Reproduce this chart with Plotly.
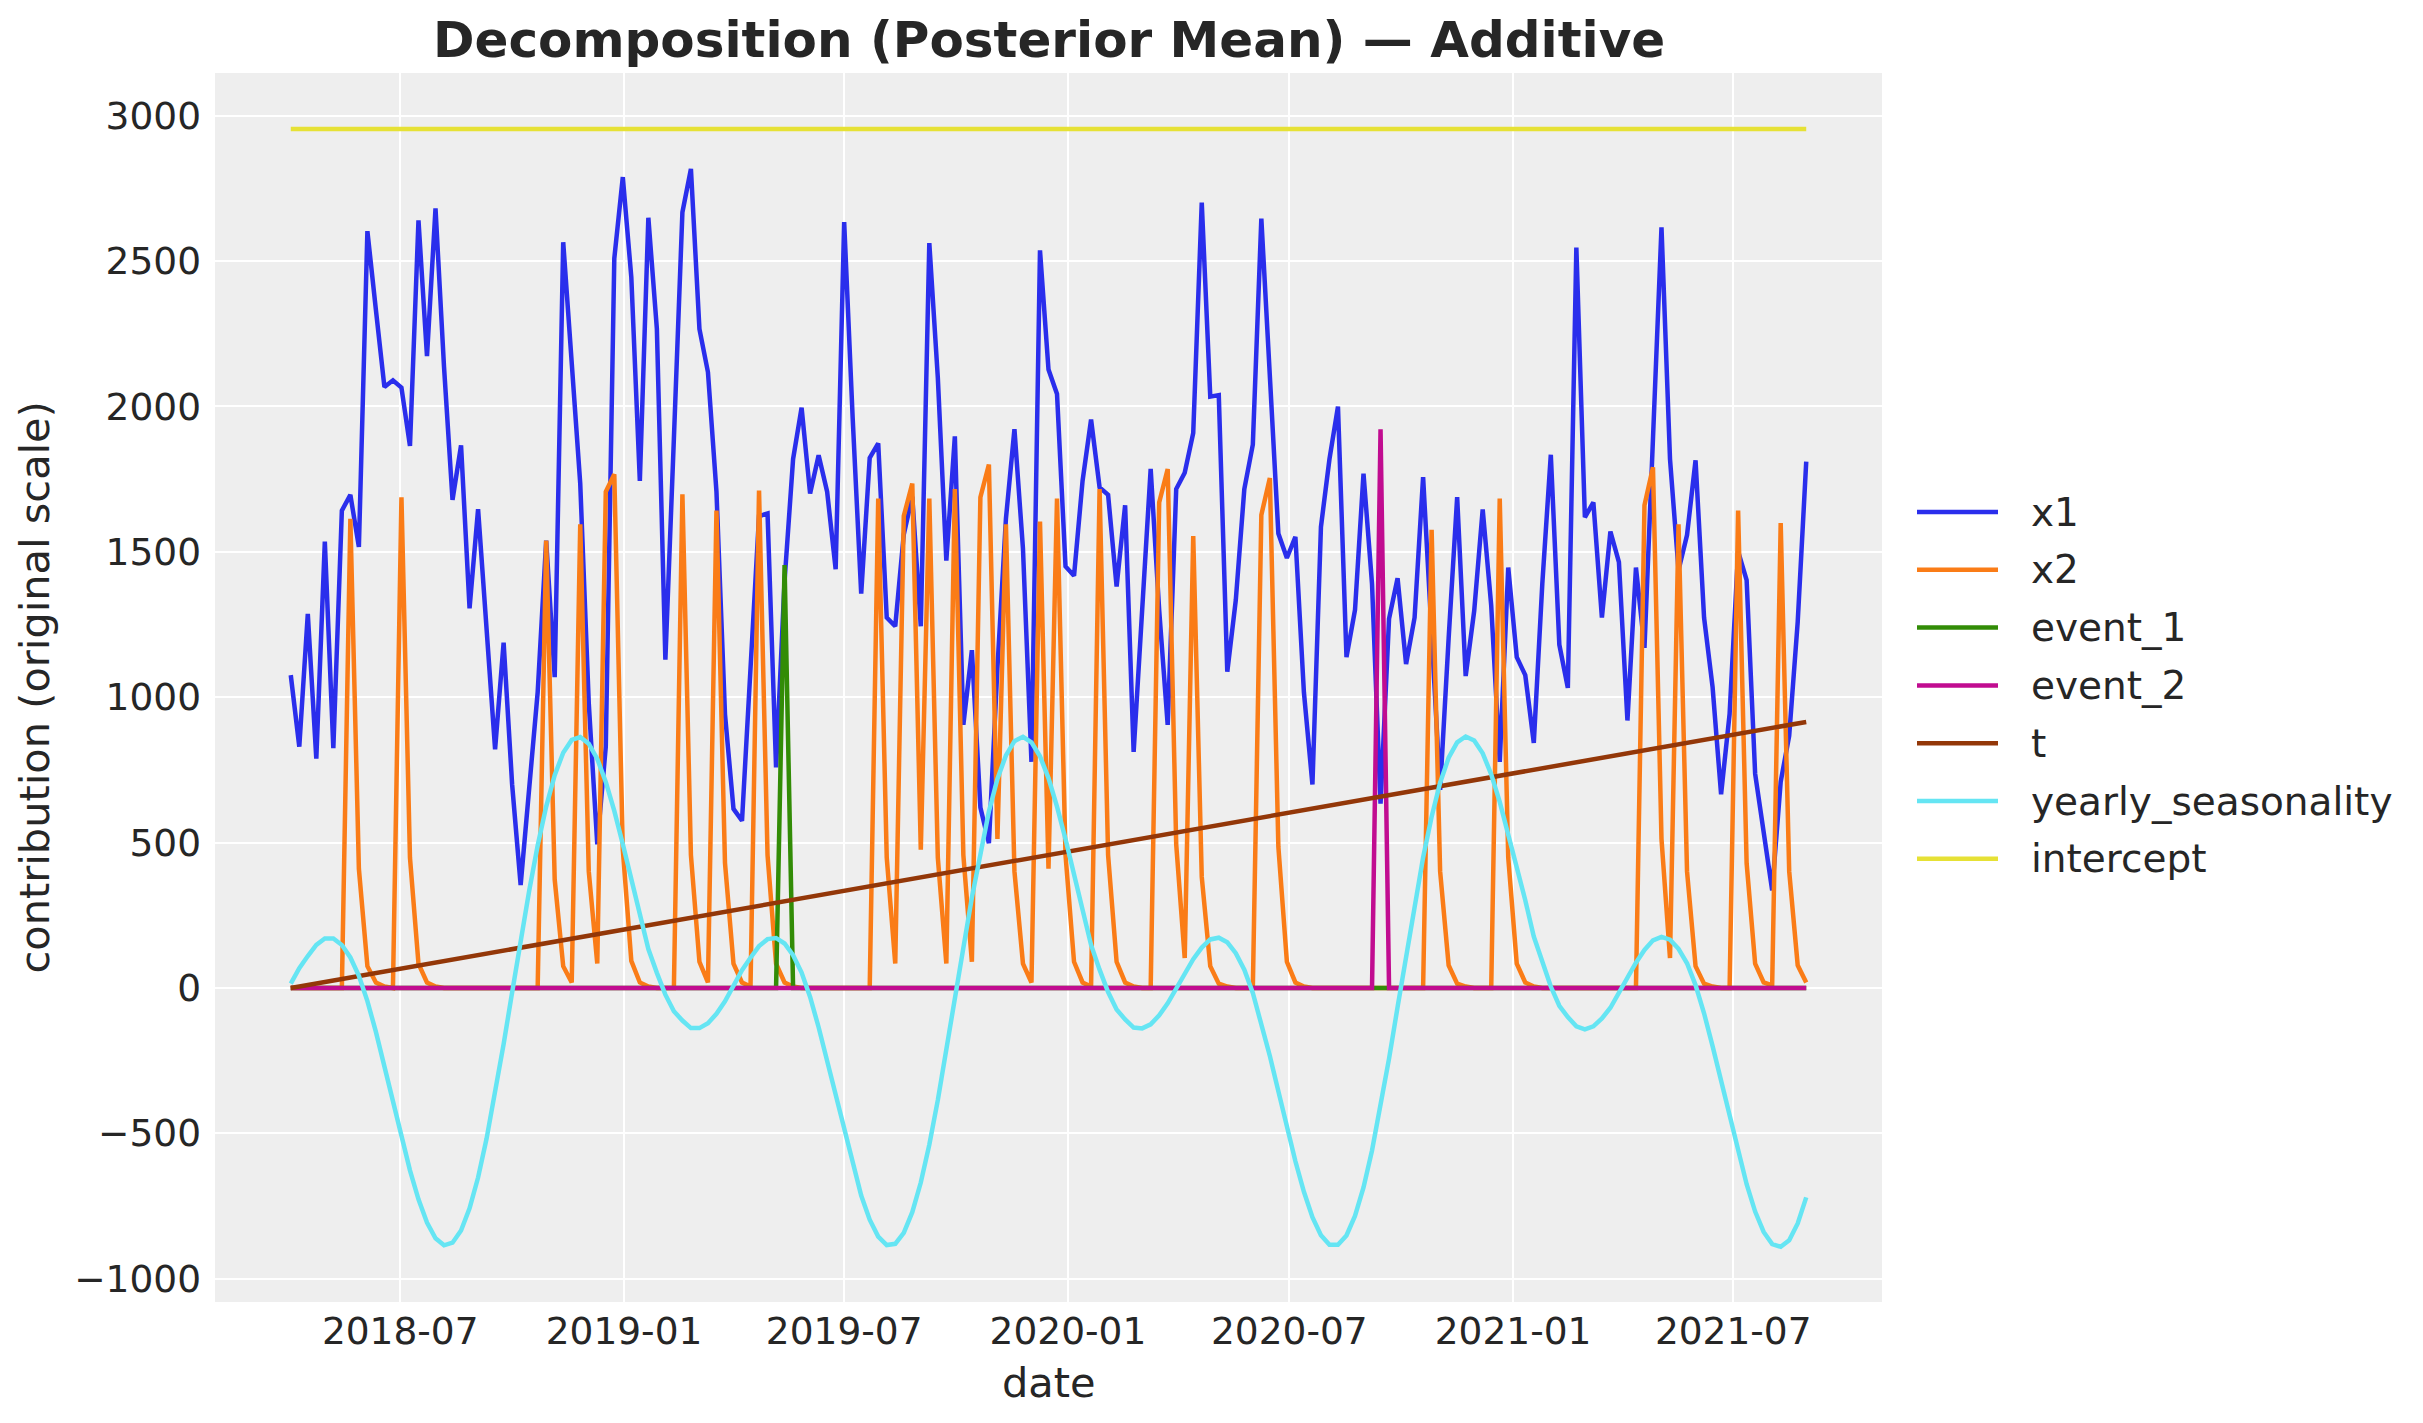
import pandas as pd
import plotly.graph_objects as go

# weekly dates (Mondays) of the decomposition
dates = pd.date_range("2018-04-02", periods=179, freq="W-MON")

# contributions, one value per week
x1 = [1076, 830, 1287, 789, 1535, 825, 1642, 1696, 1517, 2603,
      2332, 2067, 2090, 2065, 1864, 2640, 2173, 2681, 2136, 1679,
      1866, 1306, 1647, 1230, 821, 1188, 700, 354, 690, 1017,
      1539, 1069, 2565, 2150, 1735, 980, 494, 830, 2509, 2789,
      2444, 1744, 2649, 2267, 1129, 1890, 2668, 2817, 2267, 2118,
      1707, 942, 616, 575, 1110, 1623, 1632, 759, 1400, 1819,
      1996, 1701, 1832, 1707, 1440, 2634, 1960, 1356, 1823, 1873,
      1274, 1244, 1560, 1690, 1244, 2562, 2099, 1470, 1897, 905,
      1162, 621, 498, 1100, 1614, 1922, 1511, 778, 2537, 2127,
      2043, 1450, 1418, 1744, 1955, 1722, 1696, 1381, 1660, 812,
      1300, 1785, 1300, 905, 1716, 1772, 1909, 2701, 2034, 2039,
      1088, 1334, 1716, 1869, 2646, 2120, 1563, 1479, 1552, 1017,
      700, 1586, 1819, 2000, 1138, 1300, 1769, 1390, 634, 1270,
      1409, 1114, 1274, 1757, 1220, 681, 1203, 1688, 1073, 1297,
      1646, 1315, 778, 1446, 1138, 1076, 843, 1390, 1834, 1181,
      1032, 2547, 1619, 1670, 1274, 1570, 1465, 920, 1446, 1170,
      1890, 2616, 1819, 1437, 1558, 1815, 1274, 1035, 666, 942,
      1502, 1403, 737, 535, 336, 709, 868, 1259, 1810]

x2 = [0, 0, 0, 0, 0, 0, 0, 1614, 410, 75,
      19, 5, 0, 1688, 448, 84, 19, 5, 0, 0,
      0, 0, 0, 0, 0, 0, 0, 0, 0, 0,
      1539, 373, 75, 19, 1595, 401, 84, 1707, 1767, 476,
      93, 19, 5, 0, 0, 0, 1698, 457, 90, 19,
      1642, 430, 84, 19, 5, 1711, 457, 84, 19, 5,
      0, 0, 0, 0, 0, 0, 0, 0, 0, 1683,
      448, 84, 1623, 1735, 476, 1683, 448, 84, 1716, 457,
      90, 1688, 1800, 513, 1595, 401, 84, 19, 1604, 410,
      1683, 457, 90, 19, 5, 1716, 457, 90, 19, 5,
      0, 0, 1670, 1785, 494, 103, 1554, 382, 75, 15,
      5, 0, 0, 0, 1627, 1754, 485, 90, 19, 5,
      0, 0, 0, 0, 0, 0, 0, 0, 0, 0,
      0, 0, 0, 0, 1576, 401, 78, 15, 5, 0,
      0, 0, 1683, 448, 84, 19, 5, 0, 0, 0,
      0, 0, 0, 0, 0, 0, 0, 0, 0, 1660,
      1791, 513, 103, 1595, 401, 75, 15, 5, 0, 0,
      1642, 429, 84, 19, 9, 1599, 401, 78, 19]

# the two events are a single spike each
event_1 = [0] * 58 + [1455] + [0] * 120
event_2 = [0] * 128 + [1922] + [0] * 50

# trend is a straight line, read at a few weeks
t_dates = ["2018-04-02", "2018-09-24", "2019-07-01", "2020-03-23", "2020-09-14", "2021-08-30"]
t_vals = [0, 128, 334, 529, 657, 915]

yearly_seasonality = [
    15, 68, 110, 148, 170, 170, 148, 105, 42, -45,
    -151, -268, -390, -512, -627, -727, -807, -861, -885, -876,
    -834, -758, -652, -518, -363, -193, -15, 163, 334, 490,
    624, 732, 809, 853, 863, 840, 788, 709, 609, 495,
    373, 251, 134, 52, -23, -80, -112, -138, -138, -121,
    -89, -46,
    7, 61, 104, 144, 168, 172, 153, 113, 53, -31,
    -135, -251, -373, -495, -612, -714, -797, -855, -884, -880,
    -842, -771, -669, -539, -386, -218, -40, 138, 311, 469,
    607, 719, 800, 849, 864, 845, 797, 722, 624, 512,
    390, 268, 148, 63, -14, -74, -108, -136, -139, -125,
    -94, -53,
    -1, 54, 99, 139, 167, 173, 157, 120, 63, -17,
    -119, -234, -355, -478, -596, -701, -788, -850, -883, -883,
    -851, -784, -686, -559, -409, -243, -66, 113, 287, 449,
    589, 706, 792, 845, 865, 851, 807, 735, 640, 529,
    425, 302, 177, 86, 5, -61, -100, -132, -142, -132,
    -105, -68,
    -17, 41, 87, 131, 164, 176, 166, 135, 85, 10,
    -87, -200, -320, -444, -565, -675, -769, -839, -881, -890,
    -868, -810, -720]

intercept_value = 2954

names = ["x1", "x2", "event_1", "event_2", "t", "yearly_seasonality", "intercept"]
colors = ["#2a2eec", "#fa7c17", "#328c06", "#c10c90", "#933708", "#65e5f3", "#e6e135"]

series = [
    (list(dates), x1),
    (list(dates), x2),
    (list(dates), event_1),
    (list(dates), event_2),
    (pd.to_datetime(t_dates), t_vals),
    (list(dates), yearly_seasonality),
    ([dates[0], dates[-1]], [intercept_value, intercept_value]),
]

lw = 4.5

fig = go.Figure()
for (xs, ys), n, c in zip(series, names, colors):
    fig.add_trace(go.Scatter(x=xs, y=ys, mode="lines", name=n,
                             line=dict(color=c, width=lw), showlegend=False))

# plot area in pixels
W, H = 2423, 1423
L, R, T, B = 215, 1882, 73, 1302
pw, ph = R - L, B - T

def px(x):
    return (x - L) / pw

def py(y):
    return (B - y) / ph

txt = "#262626"
font = "DejaVu Sans"

# legend drawn by hand so the line samples match the original length
shapes = []
annotations = []
for k, (n, c) in enumerate(zip(names, colors)):
    yk = py(512 + 57.8 * k)
    shapes.append(dict(type="line", xref="paper", yref="paper",
                       x0=px(1917), x1=px(1998), y0=yk, y1=yk,
                       line=dict(color=c, width=lw)))
    annotations.append(dict(text=n, xref="paper", yref="paper", x=px(2029), y=yk,
                            xanchor="left", yanchor="middle", showarrow=False,
                            font=dict(family=font, size=39, color=txt)))

annotations.append(dict(text="<b>Decomposition (Posterior Mean) — Additive</b>",
                        xref="paper", yref="paper", x=0.5, y=py(40),
                        xanchor="center", yanchor="middle", showarrow=False,
                        font=dict(family=font, size=50, color=txt)))
annotations.append(dict(text="date", xref="paper", yref="paper", x=0.5, y=py(1382),
                        xanchor="center", yanchor="middle", showarrow=False,
                        font=dict(family=font, size=41.5, color=txt)))
annotations.append(dict(text="contribution (original scale)", xref="paper", yref="paper",
                        x=px(34), y=0.5, textangle=-90,
                        xanchor="center", yanchor="middle", showarrow=False,
                        font=dict(family=font, size=41.5, color=txt)))

pad = pd.Timedelta(days=62.3)
xticks = pd.to_datetime(["2018-07-01", "2019-01-01", "2019-07-01", "2020-01-01",
                         "2020-07-01", "2021-01-01", "2021-07-01"])

fig.update_layout(
    width=W, height=H,
    margin=dict(l=L, r=W - R, t=T, b=H - B, autoexpand=False),
    paper_bgcolor="white", plot_bgcolor="#eeeeee",
    font=dict(family=font, color=txt),
    shapes=shapes, annotations=annotations,
    xaxis=dict(type="date", range=[dates[0] - pad, dates[-1] + pad],
               tickvals=xticks, tickformat="%Y-%m",
               showgrid=True, gridcolor="white", gridwidth=2,
               zeroline=False, showline=False, ticks="",
               ticklabelstandoff=3,
               tickfont=dict(family=font, size=37.5, color=txt)),
    yaxis=dict(range=[-1080, 3147], tickvals=list(range(-1000, 3001, 500)),
               showgrid=True, gridcolor="white", gridwidth=2,
               zeroline=False, showline=False, ticks="",
               ticklabelstandoff=13,
               tickfont=dict(family=font, size=37.5, color=txt)),
)

# drop the default page margin so the figure sits at the window origin
fig.write_html("out.html", config={"displayModeBar": False},
               post_script="document.body.style.margin='0px';")
